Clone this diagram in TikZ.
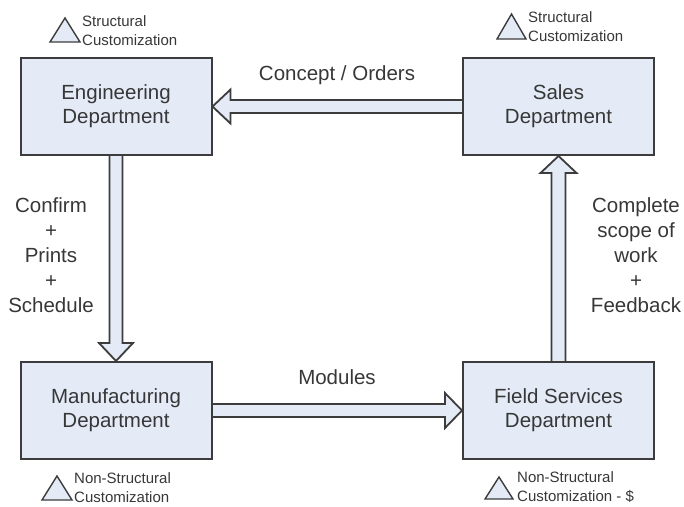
\documentclass[tikz,border=0pt]{standalone}
\usepackage{fontspec}
\setmainfont{Liberation Sans}
\usetikzlibrary{calc,backgrounds}
\definecolor{boxfill}{RGB}{228,235,247}
\definecolor{edge}{RGB}{60,60,60}
\definecolor{ink}{RGB}{55,55,55}
\tikzset{
  dept/.style={draw=edge, fill=boxfill, line width=2pt, minimum width=191pt,
    minimum height=97pt, inner sep=0pt, align=center, text=ink,
    font=\fontsize{20.5}{24}\selectfont},
  flow/.style={draw=edge, fill=boxfill, line width=1.8pt, line join=miter},
  lbl/.style={align=center, text=ink, inner sep=0pt, font=\fontsize{20.5}{25}\selectfont},
  note/.style={align=left, text=ink, inner sep=0pt, anchor=west,
    font=\fontsize{15}{19}\selectfont},
  tri/.style={draw=edge, fill=boxfill, line width=1.4pt, line join=miter}
}
\begin{document}
\begin{tikzpicture}[x=1pt, y=-1pt]
  \useasboundingbox (0,0) rectangle (684,506);
  \node[dept] (eng) at (116, 106.5) {Engineering\\Department};
  \node[dept] (sales) at (558.5, 106.5) {Sales\\Department};
  \node[dept] (mfg) at (116, 410.5) {Manufacturing\\Department};
  \node[dept] (field) at (558.5, 410.5) {Field Services\\Department};

  \begin{pgfonlayer}{background}
    \draw[flow] ($(sales.west)+(0,-6.5)$) -- ($(eng.east)+(18,-6.5)$)
      -- ($(eng.east)+(18,-17)$) -- (eng.east) -- ($(eng.east)+(18,17)$)
      -- ($(eng.east)+(18,6.5)$) -- ($(sales.west)+(0,6.5)$);
    \draw[flow] ($(eng.south)+(-6.5,0)$) -- ($(mfg.north)+(-6.5,-18)$)
      -- ($(mfg.north)+(-17,-18)$) -- (mfg.north) -- ($(mfg.north)+(17,-18)$)
      -- ($(mfg.north)+(6.5,-18)$) -- ($(eng.south)+(6.5,0)$);
    \draw[flow] ($(mfg.east)+(0,-6.5)$) -- ($(field.west)+(-17,-6.5)$)
      -- ($(field.west)+(-17,-17.5)$) -- (field.west) -- ($(field.west)+(-17,17.5)$)
      -- ($(field.west)+(-17,6.5)$) -- ($(mfg.east)+(0,6.5)$);
    \draw[flow] ($(field.north)+(-7,0)$) -- ($(sales.south)+(-7,17)$)
      -- ($(sales.south)+(-18,17)$) -- (sales.south) -- ($(sales.south)+(18,17)$)
      -- ($(sales.south)+(7,17)$) -- ($(field.north)+(7,0)$);
  \end{pgfonlayer}

  \node[lbl] (orders) at (337, 75) {Concept / Orders};
  \node[lbl] (modules) at (337, 377) {Modules};
  \node[lbl] (confirm) at (51, 255) {Confirm\\+\\Prints\\+\\Schedule};
  \node[lbl] (scope) at (636, 255) {Complete\\scope of\\work\\+\\Feedback};

  \draw[tri] (50,42) -- (65,18) -- (80,42) -- cycle;
  \node[note] (engnote) at (82, 30.5) {Structural\\Customization};
  \draw[tri] (497,39) -- (511.5,14) -- (526,39) -- cycle;
  \node[note] (salesnote) at (528, 26.5) {Structural\\Customization};
  \draw[tri] (42,500) -- (57,476) -- (72,500) -- cycle;
  \node[note] (mfgnote) at (74, 487.5) {Non-Structural\\Customization};
  \draw[tri] (485,499) -- (499,477) -- (513,499) -- cycle;
  \node[note] (fieldnote) at (517, 487.5) {Non-Structural\\Customization - \$};
\end{tikzpicture}
\end{document}
